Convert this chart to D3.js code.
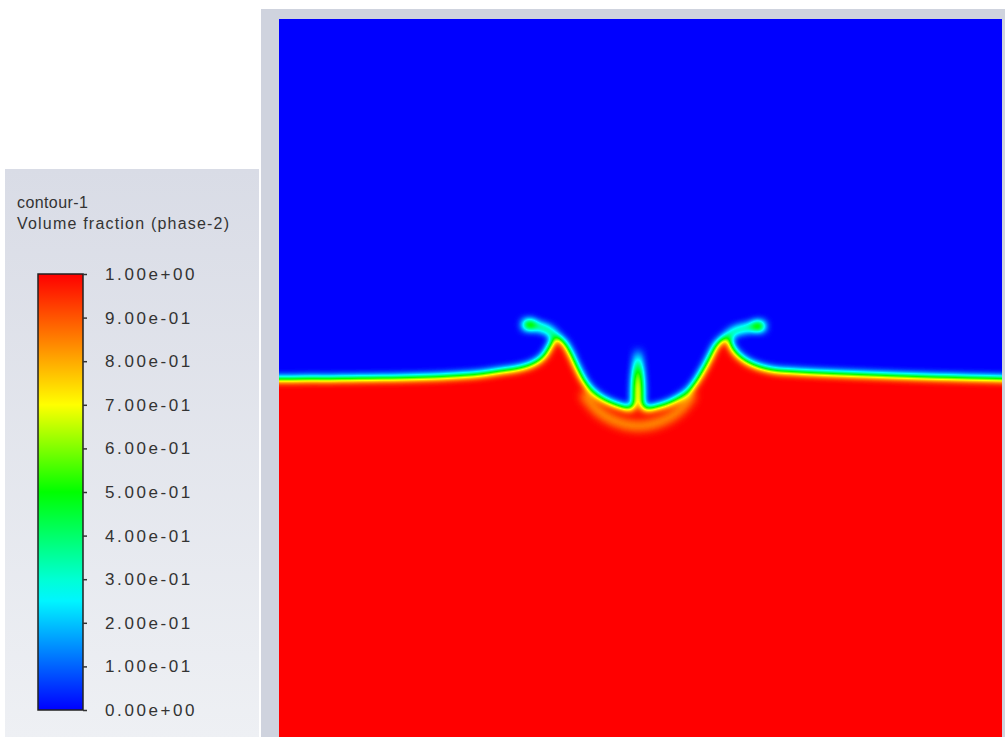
<!DOCTYPE html>
<html>
<head>
<meta charset="utf-8">
<script src="https://cdn.jsdelivr.net/npm/d3@7"></script>
<style>
  body { margin: 0; background: #fff; }
  svg text { font-family: "Liberation Sans", Arial, sans-serif; fill: #333; }
</style>
</head>
<body>
<svg id="drawing_region"></svg>
<script>
// colour map (volume fraction -> colour)
const colorStops = [0, 0.26, 0.5, 0.7, 1];
const colorValues = ['#0000ff', '#00ffff', '#00ff00', '#ffff00', '#ff0000'];

const tickValues = [0, 0.1, 0.2, 0.3, 0.4, 0.5, 0.6, 0.7, 0.8, 0.9, 1];
const tickLabels = ['0.00e+00', '1.00e-01', '2.00e-01', '3.00e-01', '4.00e-01', '5.00e-01',
                    '6.00e-01', '7.00e-01', '8.00e-01', '9.00e-01', '1.00e+00'];
const legendTitle = ['contour-1', 'Volume fraction (phase-2)'];

// free surface (alpha = 0.5), mm, left to right
const surfaceX = [-52, -40.18, -29.18, -22.2, -19.43, -17.36, -15.28, -13.49, -12.52, -11.69,
                  -10.72, -9.75, -8.78, -7.40, -5.60, -3.25, -1.18, 0.62, 3.11, 5.46,
                  7.12, 8.64, 9.61, 10.58, 11.96, 12.79, 14.18, 16.11, 18.33, 22.06, 35.89, 52];
const surfaceY = [50.21, 50.28, 50.48, 50.9, 51.31, 51.59, 52.14, 53.25, 54.77, 56.02,
                  55.46, 53.94, 51.87, 49.38, 47.72, 46.61, 46.06, 46.06, 46.61, 47.72,
                  49.10, 51.45, 53.25, 55.05, 56.02, 54.36, 52.97, 52.01, 51.45, 51.18, 50.62, 50.21];

// thin ligaments curling off the two crests
const lipLeftX = [-11.69, -12.52, -13.90, -15.42];
const lipLeftY = [56.02, 56.85, 57.40, 57.68];
const lipRightX = [11.96, 13.07, 14.73, 16.25];
const lipRightY = [56.02, 56.85, 57.26, 57.54];
const dropX = [-15.4, 16.3];
const dropY = [57.7, 57.5];

// central jet
const jetX = -0.35;
const jetY = [45.23, 46.61, 48.69, 50.35, 51.73, 53.11, 54.22];
const jetHalfWidth = [0.9, 0.62, 0.58, 0.5, 0.34, 0.17, 0.05];

// smeared wave under the cavity
const arcX = [-7.95, -6.02, -3.53, -0.35, 2.97, 5.46, 7.26];
const arcY = [48.27, 45.92, 44.40, 43.71, 44.40, 45.92, 48.27];
const arcAlpha = 0.8;

const width = 1005, height = 737;
const plot = {left: 279, top: 19, right: 1002, bottom: 737};

const svg = d3.select('#drawing_region')
    .attr('width', width)
    .attr('height', height);

const colormap = d3.scaleLinear().domain(colorStops).range(colorValues);

const defs = svg.append('defs');

// legend panel gradient
const pg = defs.append('linearGradient').attr('id', 'panelGrad')
    .attr('x1', 0).attr('y1', 0).attr('x2', 0).attr('y2', 1);
pg.append('stop').attr('offset', 0).attr('stop-color', '#d9dce6');
pg.append('stop').attr('offset', 1).attr('stop-color', '#eef0f4');

// colour bar gradient
const cg = defs.append('linearGradient').attr('id', 'barGrad')
    .attr('x1', 0).attr('y1', 1).attr('x2', 0).attr('y2', 0);
cg.selectAll('stop').data(d3.range(0, 1.0001, 0.05)).enter().append('stop')
    .attr('offset', d => d)
    .attr('stop-color', d => colormap(d));

// blur the phase field, then colour it through the map
const samples = d3.range(0, 1.0001, 0.01).map(t => d3.rgb(colormap(t)));
const filter = defs.append('filter').attr('id', 'vof')
    .attr('filterUnits', 'userSpaceOnUse')
    .attr('x', 200).attr('y', -20).attr('width', 900).attr('height', 820)
    .attr('color-interpolation-filters', 'sRGB');
filter.append('feGaussianBlur').attr('stdDeviation', 4.2);
const ct = filter.append('feComponentTransfer');
ct.append('feFuncR').attr('type', 'table').attr('tableValues', samples.map(c => (c.r / 255).toFixed(3)).join(' '));
ct.append('feFuncG').attr('type', 'table').attr('tableValues', samples.map(c => (c.g / 255).toFixed(3)).join(' '));
ct.append('feFuncB').attr('type', 'table').attr('tableValues', samples.map(c => (c.b / 255).toFixed(3)).join(' '));

defs.append('clipPath').attr('id', 'plotClip')
    .append('rect')
    .attr('x', plot.left).attr('y', plot.top)
    .attr('width', plot.right - plot.left).attr('height', plot.bottom - plot.top);

// ---- legend ----
svg.append('rect')
    .attr('x', 5).attr('y', 169).attr('width', 254).attr('height', 570)
    .attr('fill', 'url(#panelGrad)');

svg.append('g').selectAll('text').data(legendTitle).enter().append('text')
    .attr('x', 17)
    .attr('y', (d, i) => 208 + i * 21)
    .attr('font-size', 16)
    .attr('letter-spacing', (d, i) => i ? 1.2 : 0.4)
    .text(d => d);

const bar = {x: 38, w: 45, top: 274, bottom: 710};
const cscale = d3.scaleLinear().domain([0, 1]).range([bar.bottom, bar.top]);

svg.append('rect')
    .attr('x', bar.x).attr('y', bar.top)
    .attr('width', bar.w).attr('height', bar.bottom - bar.top)
    .attr('fill', 'url(#barGrad)')
    .attr('stroke', '#222').attr('stroke-width', 1.5);

const caxis = d3.axisRight(cscale)
    .tickValues(tickValues)
    .tickFormat((d, i) => tickLabels[i])
    .tickSize(4)
    .tickPadding(18);

const cg2 = svg.append('g')
    .attr('transform', `translate(${bar.x + bar.w}, 0)`)
    .call(caxis);
cg2.select('.domain').remove();
cg2.selectAll('.tick line').attr('stroke', '#333').attr('stroke-width', 1.5);
cg2.selectAll('.tick text')
    .attr('font-size', 17)
    .attr('letter-spacing', 2.6)
    .attr('fill', '#2e2e2e')
    .style('font-family', '"Liberation Sans", Arial, sans-serif');

// ---- contour plot ----
svg.append('rect')
    .attr('x', 261).attr('y', 9).attr('width', 744).attr('height', 740)
    .attr('fill', '#cfd3de');

const x = d3.scaleLinear().domain([-50, 50]).range([plot.left, plot.right]);
const y = d3.scaleLinear().domain([0, 100]).range([742, plot.top]);

const field = svg.append('g').attr('clip-path', 'url(#plotClip)')
    .append('g').attr('filter', 'url(#vof)');

field.append('rect')
    .attr('x', 220).attr('y', -10).attr('width', 860).attr('height', 800)
    .attr('fill', '#000');

const surface = surfaceX.map((d, i) => ({x: d, y: surfaceY[i]}));
field.append('path')
    .datum(surface)
    .attr('fill', '#fff')
    .attr('d', d3.area().curve(d3.curveCatmullRom)
        .x(d => x(d.x)).y0(y(-5)).y1(d => y(d.y)));

const lipLine = d3.line().curve(d3.curveCatmullRom).x(d => x(d.x)).y(d => y(d.y));
[[lipLeftX, lipLeftY], [lipRightX, lipRightY]].forEach(([xs, ys]) => {
    field.append('path')
        .datum(xs.map((d, i) => ({x: d, y: ys[i]})))
        .attr('fill', 'none')
        .attr('stroke', '#fff')
        .attr('stroke-width', 3.4)
        .attr('stroke-linecap', 'round')
        .attr('d', lipLine);
});

field.selectAll('ellipse.drop').data(dropX).enter().append('ellipse')
    .attr('cx', d => x(d))
    .attr('cy', (d, i) => y(dropY[i]))
    .attr('rx', 6.3).attr('ry', 3.8)
    .attr('fill', '#fff');

const jet = jetY.map((d, i) => ({y: d, h: jetHalfWidth[i]}));
field.append('path')
    .datum(jet)
    .attr('fill', '#fff')
    .attr('d', d3.area().curve(d3.curveCatmullRom)
        .y(d => y(d.y))
        .x0(d => x(jetX - d.h))
        .x1(d => x(jetX + d.h)));

const g = Math.round(arcAlpha * 255);
field.append('path')
    .datum(arcX.map((d, i) => ({x: d, y: arcY[i]})))
    .attr('fill', 'none')
    .attr('stroke', `rgb(${g},${g},${g})`)
    .attr('stroke-width', 9)
    .attr('d', lipLine);
</script>
</body>
</html>
